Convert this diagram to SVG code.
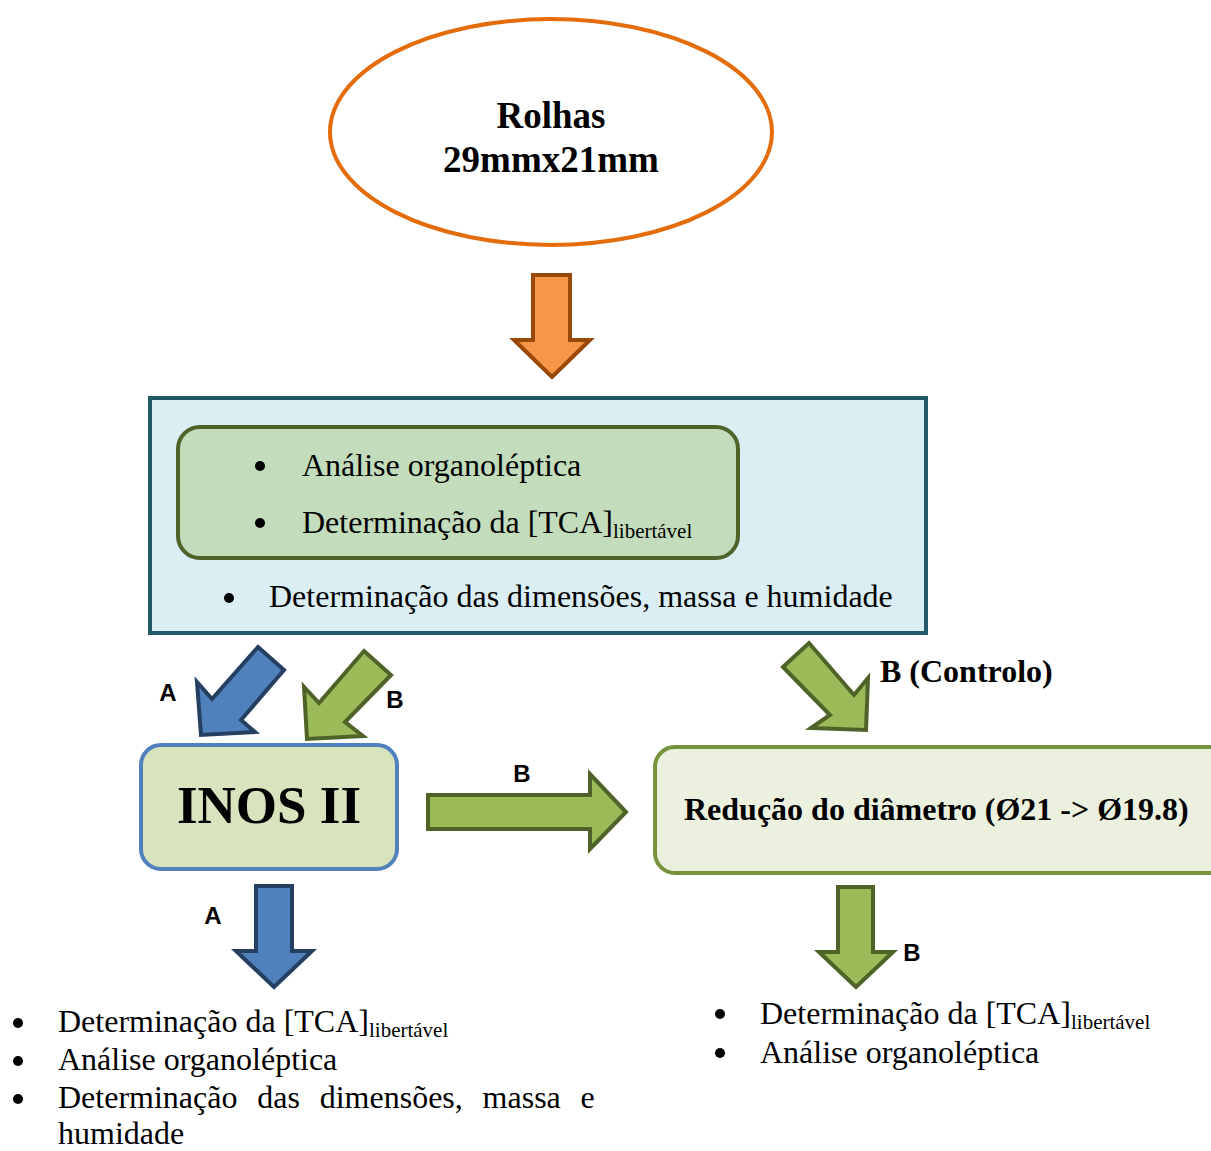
<svg xmlns="http://www.w3.org/2000/svg" width="1211" height="1151" viewBox="0 0 1211 1151">
<style>
.serif{font-family:"Liberation Serif","Times New Roman",serif;fill:#000}
.t32{font-size:32px}
.sub{font-size:21px}
.bold{font-weight:bold}
.lbl{font-family:"Liberation Sans",Arial,sans-serif;font-weight:bold;font-size:24px;fill:#000;text-anchor:middle}
.blueA{fill:#4F81BD;stroke:#243F60;stroke-width:4;stroke-linejoin:miter}
.greenA{fill:#9BBB59;stroke:#4F6228;stroke-width:4;stroke-linejoin:miter}
.orangeA{fill:#F79646;stroke:#984807;stroke-width:4;stroke-linejoin:miter}
.dot{fill:#000}
</style>
<rect width="1211" height="1151" fill="#fff"/>

<g id="rolhas">
<ellipse cx="551" cy="132" rx="221" ry="113" fill="#fff" stroke="#E46C0A" stroke-width="4"/>
<text class="serif bold" x="551" y="128" font-size="37" text-anchor="middle">Rolhas</text>
<text class="serif bold" x="551" y="172" font-size="37" text-anchor="middle">29mmx21mm</text>
</g>

<g id="analises">
<rect x="150" y="398" width="776" height="235" fill="#DAEEF3" stroke="#215968" stroke-width="4"/>
<rect x="178" y="427" width="560" height="131" rx="22" fill="#C3DCBC" stroke="#4F6228" stroke-width="4"/>
<circle class="dot" cx="260" cy="466" r="5"/>
<text class="serif t32" x="302" y="476">Análise organoléptica</text>
<circle class="dot" cx="260" cy="523" r="5"/>
<text class="serif t32" x="302" y="533">Determinação da [TCA]<tspan class="sub" dy="5">libertável</tspan></text>
<circle class="dot" cx="229" cy="598" r="5"/>
<text class="serif t32" x="269" y="607">Determinação das dimensões, massa e humidade</text>
</g>

<g id="inos">
<rect x="141" y="745" width="256" height="124" rx="20" fill="#D7E4BD" stroke="#4F81BD" stroke-width="4"/>
<text class="serif bold" x="269" y="823" font-size="53" text-anchor="middle">INOS II</text>
</g>

<g id="reducao">
<rect x="655" y="747" width="580" height="126" rx="20" fill="#EBF1DE" stroke="#77933C" stroke-width="4"/>
<text class="serif bold t32" x="684" y="820">Redução do diâmetro (Ø21 -&gt; Ø19.8)</text>
</g>

<g id="resultadoA">
<circle class="dot" cx="18" cy="1023" r="5"/>
<text class="serif t32" x="58" y="1032">Determinação da [TCA]<tspan class="sub" dy="5">libertável</tspan></text>
<circle class="dot" cx="18" cy="1061" r="5"/>
<text class="serif t32" x="58" y="1070">Análise organoléptica</text>
<circle class="dot" cx="18" cy="1099" r="5"/>
<text class="serif t32" x="58" y="1108" word-spacing="11.8">Determinação das dimensões, massa e</text>
<text class="serif t32" x="58" y="1144">humidade</text>
</g>

<g id="resultadoB">
<circle class="dot" cx="720" cy="1014" r="5"/>
<text class="serif t32" x="760" y="1024">Determinação da [TCA]<tspan class="sub" dy="5">libertável</tspan></text>
<circle class="dot" cx="720" cy="1053" r="5"/>
<text class="serif t32" x="760" y="1063">Análise organoléptica</text>
</g>

<g id="connectors">
<polygon class="orangeA" points="533,275 570,275 570,340 590,340 552,377 514,340 533,340"/>
<polygon class="blueA" points="258,647 284,670 241,720 255,732 201,735 197,682 212,699"/>
<polygon class="greenA" points="364,651 391,675 345,722 363,736 307,739 304,687 319,703"/>
<polygon class="greenA" points="783,667 809,643 854,695 868,678 866,730 811,728 830,715"/>
<polygon class="greenA" points="428,795 590,795 590,774 626,812 590,849 590,829 428,829"/>
<polygon class="blueA" points="256,886 292,886 292,951 312,951 274,987 236,951 256,951"/>
<polygon class="greenA" points="838,887 873,887 873,952 893,952 856,987 819,952 838,952"/>
<text class="lbl" x="168" y="701">A</text>
<text class="lbl" x="395" y="708">B</text>
<text class="serif bold t32" x="880" y="682">B (Controlo)</text>
<text class="lbl" x="522" y="782">B</text>
<text class="lbl" x="213" y="924">A</text>
<text class="lbl" x="912" y="961">B</text>
</g>
</svg>
